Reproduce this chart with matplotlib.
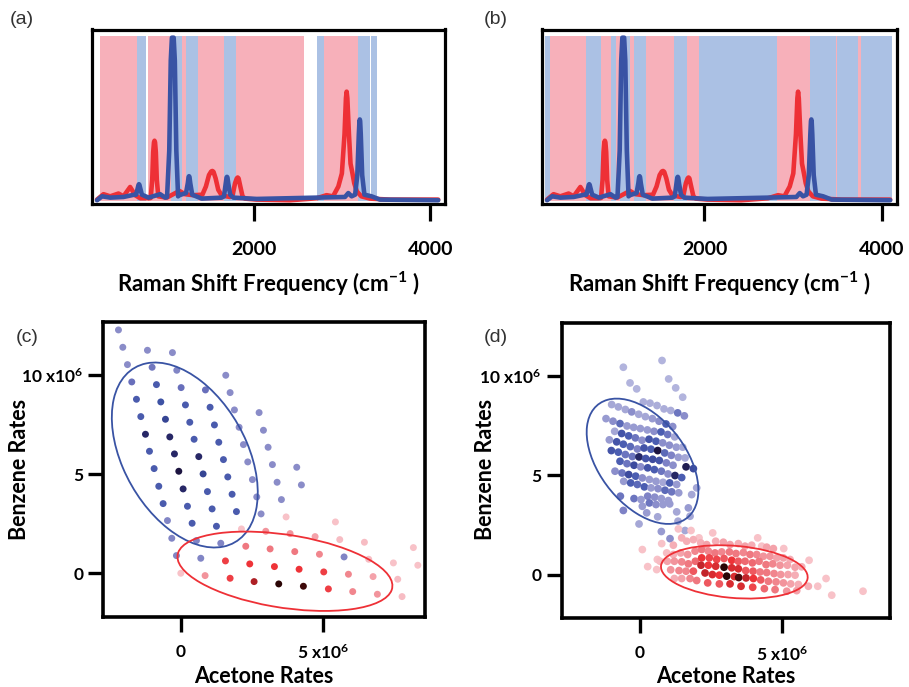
import numpy as np
import matplotlib
matplotlib.use("Agg")
import matplotlib.pyplot as plt
from matplotlib.colors import LinearSegmentedColormap
from matplotlib.patches import Ellipse

plt.rcParams['font.family'] = ['Lato', 'DejaVu Sans']
plt.rcParams['font.weight'] = 'bold'
plt.rcParams['axes.labelweight'] = 'bold'
plt.rcParams['mathtext.fontset'] = 'custom'
plt.rcParams['mathtext.rm'] = 'Lato:bold'
plt.rcParams['mathtext.bf'] = 'Lato:bold'
plt.rcParams['mathtext.it'] = 'Lato:bold'

# ---------------- Raman spectra (normalised intensity) ----------------
acetone_freq = [227, 300, 376, 470, 527, 602, 659, 716, 810, 835, 852, 863, 872, 878, 884,
                893, 904, 921, 1017, 1160, 1224, 1318, 1420, 1460, 1495, 1520, 1533, 1546,
                1570, 1600, 1640, 1733, 1760, 1790, 1810, 1820, 1830, 1850, 1875, 1903, 2035,
                2412, 2714, 2827, 2900, 2960, 3000, 3030, 3046, 3054, 3062, 3080, 3098, 3120,
                3140, 3170, 3220, 3318, 3544, 4091]
acetone_int = [0.0, 0.033, 0.02, 0.037, 0.02, 0.077, 0.027, 0.008, 0.008, 0.01, 0.12, 0.29,
               0.35, 0.36, 0.35, 0.29, 0.12, 0.02, 0.012, 0.053, 0.033, 0.027, 0.03, 0.08,
               0.15, 0.172, 0.175, 0.17, 0.13, 0.06, 0.025, 0.016, 0.02, 0.10, 0.13, 0.135,
               0.13, 0.08, 0.02, 0.006, 0.0, -0.004, 0.008, 0.027, 0.02, 0.08, 0.16, 0.40,
               0.62, 0.66, 0.62, 0.40, 0.22, 0.16, 0.10, 0.05, 0.02, 0.006, 0.0, 0.0]

benzene_freq = [227, 284, 376, 527, 640, 670, 688, 697, 702, 707, 716, 735, 810, 942, 999,
                1020, 1045, 1062, 1075, 1095, 1108, 1125, 1145, 1160, 1235, 1255, 1264, 1269,
                1274, 1283, 1305, 1412, 1639, 1665, 1685, 1694, 1699, 1704, 1713, 1735, 1771,
                2035, 2714, 3035, 3073, 3110, 3150, 3175, 3192, 3199, 3203, 3207, 3214, 3230,
                3255, 3336, 3431, 4091]
benzene_int = [-0.004, 0.02, 0.012, 0.016, 0.029, 0.03, 0.07, 0.09, 0.094, 0.09, 0.07, 0.03,
               0.012, 0.033, 0.012, 0.015, 0.30, 0.85, 0.99, 0.99, 0.85, 0.30, 0.02, 0.027,
               0.04, 0.10, 0.138, 0.143, 0.138, 0.10, 0.03, 0.006, 0.012, 0.02, 0.10, 0.135,
               0.139, 0.135, 0.10, 0.03, 0.012, 0.004, 0.012, 0.016, 0.04, 0.02, 0.03, 0.15,
               0.40, 0.48, 0.49, 0.48, 0.40, 0.15, 0.03, 0.02, 0.0, -0.004]

# wavelength windows assigned to each analyte (A = acetone, B = benzene)
win_a_start = [265, 684, 808, 1060, 1193, 1238, 1366, 1660, 1804, 2721, 2800, 3185, 3332]
win_a_end = [684, 786, 1060, 1193, 1238, 1366, 1660, 1804, 2574, 2800, 3185, 3321, 3400]
win_a_kind = ['A', 'B', 'A', 'B', 'A', 'B', 'A', 'B', 'A', 'B', 'A', 'B', 'B']

win_b_start = [206, 263, 665, 830, 943, 1003, 1045, 1165, 1203, 1341, 1657, 1800, 1936,
               2816, 3188, 3481, 3489, 3733, 3763]
win_b_end = [263, 665, 830, 943, 1003, 1045, 1165, 1203, 1341, 1657, 1800, 1936, 2816,
             3188, 3481, 3489, 3733, 3763, 4113]
win_b_kind = ['B', 'A', 'B', 'A', 'B', 'A', 'B', 'A', 'B', 'A', 'B', 'A', 'B',
              'A', 'B', 'A', 'B', 'A', 'B']

# ---------------- estimated rates, panel (c) (units of 1e6) ----------------
c_benz_x = [-2.196, -2.043, -1.175, -0.295, -1.879, -1.011, -0.142, 1.583, -1.727, -0.858,
            0.011, 0.867, 1.736, -1.562, -0.705, 0.163, 1.031, 1.888, 2.757, -1.409, -0.541,
            0.316, 1.184, 2.053, 2.910, -1.245, -0.388, 0.468, 1.337, 2.205, 3.074, -1.104,
            -0.224, 0.633, 1.501, 2.358, 3.226, 4.083, -0.940, -0.071, 0.785, 1.654, 2.522,
            3.391, 4.247, -0.776, 0.081, 0.938, 1.806, 2.675, 3.543, -0.623, 0.234, 1.102,
            1.959, 2.827, -0.471, 0.398, 1.255, -0.318, 0.550, 1.407, -0.154, 0.703, 5.750]
c_benz_y = [12.265, 11.391, 11.240, 11.122, 10.517, 10.383, 10.232, 9.980, 9.644, 9.509,
            9.358, 9.241, 9.106, 8.770, 8.636, 8.485, 8.367, 8.233, 8.098, 7.897, 7.762,
            7.611, 7.476, 7.359, 7.208, 7.006, 6.872, 6.754, 6.603, 6.485, 6.351, 6.149,
            6.015, 5.880, 5.729, 5.612, 5.477, 5.343, 5.276, 5.141, 5.007, 4.855, 4.721,
            4.587, 4.452, 4.385, 4.251, 4.116, 3.982, 3.847, 3.713, 3.511, 3.377, 3.243,
            3.108, 2.991, 2.655, 2.520, 2.369, 1.764, 1.647, 1.512, 0.890, 0.756, 0.823]
c_benz_w = [0.2, 0.2, 0.2, 0.2, 0.2, 0.35, 0.25, 0.2, 0.4, 0.55, 0.4, 0.4, 0.2, 0.55, 0.62,
            0.55, 0.55, 0.2, 0.2, 0.55, 0.7, 0.55, 0.55, 0.2, 0.2, 0.88, 0.88, 0.55, 0.55,
            0.2, 0.2, 0.55, 0.88, 0.88, 0.55, 0.2, 0.2, 0.2, 0.55, 1.0, 0.7, 0.55, 0.2, 0.2,
            0.2, 0.55, 0.88, 0.55, 0.55, 0.2, 0.2, 0.55, 0.55, 0.55, 0.55, 0.2, 0.25, 0.55,
            0.55, 0.25, 0.25, 0.25, 0.25, 0.25, 0.25]

c_acet_x = [3.708, 5.445, 2.135, 2.992, 3.849, 4.729, 5.598, 6.466, 8.191, 2.288, 3.145,
            4.013, 4.882, 6.618, 7.487, 1.572, 2.428, 3.297, 4.166, 5.034, 5.903, 6.771,
            7.640, 0.000, 0.855, 1.736, 2.581, 3.449, 4.317, 5.197, 6.054, 6.923, 7.792,
            8.347]
c_acet_y = [2.839, 2.587, 2.235, 2.117, 1.999, 1.848, 1.697, 1.563, 1.294, 1.361, 1.226,
            1.092, 0.958, 0.706, 0.521, 0.622, 0.470, 0.336, 0.202, 0.067, -0.050, -0.168,
            -0.302, 0.000, -0.118, -0.252, -0.420, -0.538, -0.655, -0.790, -0.924, -1.058,
            -1.176, 0.403]
c_acet_w = [0.15, 0.15, 0.15, 0.35, 0.35, 0.3, 0.2, 0.2, 0.15, 0.45, 0.45, 0.45, 0.4, 0.2,
            0.15, 0.62, 0.65, 0.65, 0.65, 0.62, 0.4, 0.3, 0.2, 0.15, 0.35, 0.62, 0.8, 1.0,
            0.97, 0.62, 0.4, 0.35, 0.2, 0.15]

# ---------------- estimated rates, panel (d) (units of 1e6) ----------------
d_benz = [  # x, y, weight
    (-0.587, 10.45, 0.2), (0.775, 10.79, 0.2), (-0.352, 9.66, 0.2), (-0.117, 9.36, 0.2),
    (1.009, 9.86, 0.2), (1.256, 9.41, 0.2), (1.502, 8.94, 0.2),
    (0.117, 8.70, 0.25), (0.352, 8.64, 0.25), (0.599, 8.52, 0.25), (0.845, 8.35, 0.25),
    (1.080, 8.27, 0.25), (1.326, 8.15, 0.5), (1.561, 8.00, 0.4),
    (-0.998, 8.57, 0.3), (-0.763, 8.45, 0.3), (-0.516, 8.32, 0.3), (-0.293, 8.20, 0.4),
    (-0.047, 8.08, 0.3), (0.188, 7.96, 0.3), (0.434, 7.86, 0.35), (0.669, 7.73, 0.4),
    (0.915, 7.59, 0.6), (1.150, 7.46, 0.4),
    (-1.197, 7.86, 0.35), (-0.951, 7.73, 0.4), (-0.704, 7.61, 0.55), (-0.458, 7.49, 0.35),
    (-0.223, 7.42, 0.35), (0.012, 7.36, 0.35), (0.258, 7.29, 0.35), (0.493, 7.22, 0.4),
    (0.739, 7.19, 0.6), (0.974, 7.06, 0.5), (1.221, 6.94, 0.3),
    (-0.892, 7.22, 0.3), (-0.646, 7.11, 0.65), (-0.399, 6.99, 0.6), (-0.164, 6.89, 0.5),
    (0.070, 6.77, 0.4), (0.317, 6.82, 0.65), (0.563, 6.72, 0.6), (0.798, 6.64, 0.4),
    (1.033, 6.52, 0.4), (1.279, 6.42, 0.35), (1.502, 6.42, 0.3),
    (-1.080, 6.79, 0.35), (-0.822, 6.69, 0.65), (-0.587, 6.57, 0.6), (-0.340, 6.45, 0.55),
    (-0.094, 6.33, 0.45), (0.141, 6.38, 0.65), (0.387, 6.32, 0.6), (0.622, 6.25, 1.0),
    (0.869, 6.13, 0.55), (1.103, 6.01, 0.45), (1.350, 5.91, 0.35), (1.585, 5.88, 0.3),
    (-1.009, 6.25, 0.65), (-0.763, 6.17, 0.6), (-0.516, 6.05, 0.5), (-0.270, 5.95, 0.5),
    (-0.035, 5.93, 0.9), (0.200, 5.85, 0.65), (0.446, 5.81, 0.7), (0.681, 5.75, 0.65),
    (0.927, 5.63, 0.45), (1.162, 5.51, 0.4), (1.620, 5.43, 0.95), (1.878, 5.34, 0.7),
    (-0.704, 5.71, 0.6), (-0.458, 5.59, 0.5), (-0.211, 5.51, 0.7), (0.023, 5.43, 0.4),
    (0.270, 5.38, 0.65), (0.505, 5.29, 0.6), (0.751, 5.21, 0.5), (0.986, 5.07, 0.4),
    (1.232, 4.99, 0.9), (1.467, 4.89, 0.6),
    (-0.880, 5.21, 0.4), (-0.634, 5.12, 0.5), (-0.399, 5.04, 0.7), (-0.153, 4.96, 0.6),
    (0.082, 4.87, 0.4), (0.329, 4.79, 0.35), (0.563, 4.70, 0.35), (0.810, 4.65, 0.3),
    (1.045, 4.62, 0.6), (1.291, 4.54, 0.35), (1.995, 4.37, 0.3),
    (-0.575, 4.70, 0.35), (-0.329, 4.62, 0.6), (-0.094, 4.54, 0.55), (0.153, 4.42, 0.6),
    (0.387, 4.37, 0.35), (0.634, 4.33, 0.4), (0.880, 4.25, 0.55), (1.115, 4.17, 0.5),
    (1.362, 4.12, 0.35), (1.819, 4.03, 0.3),
    (-0.692, 3.95, 0.5), (-0.211, 3.83, 0.5), (0.035, 3.78, 0.35), (0.270, 3.95, 0.45),
    (0.516, 3.90, 0.4), (0.751, 3.83, 0.35), (0.998, 3.73, 0.35), (1.702, 3.36, 0.35),
    (-0.587, 3.23, 0.45), (0.082, 3.44, 0.35), (0.329, 3.61, 0.5), (0.563, 3.53, 0.4),
    (0.810, 3.53, 0.35), (1.045, 3.56, 0.35), (1.291, 3.16, 0.3), (1.761, 2.94, 0.3),
    (0.622, 2.91, 0.3), (0.235, 3.11, 0.35), (-0.035, 2.55, 0.3), (0.751, 2.17, 0.35),
    (1.056, 1.81, 0.4), (1.338, 2.69, 0.3), (1.585, 2.22, 0.3),
]
d_acet = [  # x, y, weight
    (0.082, 1.26, 0.15), (0.270, 0.40, 0.15), (0.610, 0.76, 0.15), (0.763, 1.56, 0.15),
    (1.350, 2.30, 0.15), (1.796, 2.22, 0.15), (2.077, 1.85, 0.15), (2.559, 2.10, 0.15),
    (4.143, 1.85, 0.15), (4.284, 1.43, 0.15), (5.059, 1.31, 0.15), (5.951, 0.72, 0.15),
    (6.256, -0.59, 0.15), (6.549, -0.20, 0.15), (6.749, -1.04, 0.15), (0.587, 0.25, 0.15),
    (7.850, -0.84, 0.15),
    (1.174, 1.48, 0.25), (1.467, 1.85, 0.25), (1.643, 1.68, 0.25), (1.878, 1.76, 0.25),
    (2.136, 1.60, 0.25), (2.347, 1.51, 0.3), (2.664, 1.68, 0.25), (2.934, 1.63, 0.3),
    (3.169, 1.51, 0.3), (3.462, 1.56, 0.25), (3.697, 1.43, 0.3), (3.932, 1.48, 0.25),
    (4.460, 1.38, 0.3), (4.695, 1.31, 0.3),
    (0.939, 1.09, 0.2), (1.174, 1.01, 0.25), (1.432, 1.09, 0.3), (1.678, 1.01, 0.35),
    (1.937, 1.18, 0.4), (2.171, 1.26, 0.45), (2.406, 1.18, 0.4), (2.641, 1.09, 0.45),
    (2.876, 1.14, 0.4), (3.146, 1.14, 0.45), (3.380, 1.06, 0.45), (3.638, 1.11, 0.4),
    (3.873, 1.01, 0.45), (4.108, 1.01, 0.4), (4.343, 0.92, 0.35), (4.577, 0.92, 0.35),
    (4.812, 0.84, 0.3), (5.047, 0.84, 0.3), (5.282, 0.76, 0.25),
    (0.704, 0.67, 0.2), (0.962, 0.67, 0.3), (1.209, 0.67, 0.35), (1.467, 0.64, 0.4),
    (1.702, 0.54, 0.45), (1.948, 0.67, 0.5), (2.171, 0.84, 0.65), (2.441, 0.84, 0.6),
    (2.700, 0.76, 0.6), (2.958, 0.81, 0.55), (3.228, 0.72, 0.65), (3.462, 0.67, 0.55),
    (3.697, 0.67, 0.5), (3.955, 0.59, 0.5), (4.190, 0.67, 0.45), (4.437, 0.50, 0.45),
    (4.671, 0.54, 0.4), (4.930, 0.47, 0.35), (5.188, 0.47, 0.3), (5.458, 0.37, 0.3),
    (5.692, 0.39, 0.25),
    (1.080, 0.24, 0.35), (1.373, 0.20, 0.4), (1.620, 0.17, 0.4), (1.878, 0.17, 0.55),
    (2.148, 0.47, 0.75), (2.406, 0.47, 0.65), (2.664, 0.42, 0.7), (2.958, 0.37, 1.0),
    (3.228, 0.34, 0.7), (3.462, 0.29, 0.7), (3.721, 0.20, 0.55), (3.979, 0.17, 0.55),
    (4.225, 0.13, 0.45), (4.460, 0.10, 0.45), (4.718, 0.05, 0.4), (4.953, 0.00, 0.35),
    (5.211, 0.00, 0.3), (5.458, -0.03, 0.25),
    (1.209, -0.20, 0.25), (1.467, -0.20, 0.3), (1.761, -0.20, 0.4), (1.995, -0.30, 0.45),
    (2.289, 0.08, 0.75), (2.547, 0.00, 0.7), (2.793, -0.03, 0.65), (3.052, -0.08, 1.0),
    (3.322, -0.10, 0.7), (3.474, -0.15, 0.95), (3.732, -0.17, 0.75), (3.991, -0.20, 0.65),
    (4.249, -0.27, 0.55), (4.519, -0.34, 0.45), (4.789, -0.37, 0.4), (5.047, -0.42, 0.35),
    (5.305, -0.47, 0.3), (5.575, -0.50, 0.25),
    (2.383, -0.42, 0.55), (2.793, -0.47, 0.55), (3.169, -0.47, 0.7), (3.556, -0.59, 0.7),
    (3.967, -0.64, 0.6), (4.378, -0.71, 0.5), (4.754, -0.76, 0.45), (5.164, -0.84, 0.35),
    (5.516, -0.81, 0.3), (5.927, -0.59, 0.25),
]

# confidence ellipses: centre x, centre y, sigma x, sigma y, correlation
ell_c_benz = (0.14, 5.96, 2.570, 4.662, -0.4065)
ell_c_acet = (3.667, 0.10, 3.785, 2.00, -0.365)
ell_d_benz = (0.088, 5.71, 1.966, 3.159, -0.4626)
ell_d_acet = (3.32, 0.134, 2.582, 1.344, -0.195)

# ---------------- styling ----------------
RED = '#EE3036'
BLUE = '#3953A4'
PINK_BAND = '#F7B0BA'
BLUE_BAND = '#ABC1E4'
blue_cmap = LinearSegmentedColormap.from_list(
    'bz', [(0, '#C3C4E4'), (0.2, '#8A8CC8'), (0.45, '#6068B8'), (0.6, '#3F55A8'),
           (0.8, '#2E3580'), (1.0, '#1C1440')])
red_cmap = LinearSegmentedColormap.from_list(
    'ac', [(0, '#FBD3D8'), (0.2, '#F7BCC3'), (0.35, '#F2949C'), (0.5, '#EE6A72'),
           (0.65, '#EE3338'), (0.82, '#A51C22'), (1.0, '#2A0505')])
# the denser grid of panel (d) is drawn with lighter low-count shades
blue_cmap_d = LinearSegmentedColormap.from_list(
    'bzd', [(0, '#CBCDEA'), (0.3, '#A5A7D6'), (0.45, '#7E82C6'), (0.6, '#4B5DB1'),
            (0.8, '#2F3A8C'), (1.0, '#1C1440')])

W, H = 909, 687
fig = plt.figure(figsize=(W / 100, H / 100), dpi=100)


def px_axes(l, t, r, b):
    return fig.add_axes([l / W, 1 - b / H, (r - l) / W, (b - t) / H])


def bold_ticks(ax):
    for lab in ax.get_xticklabels() + ax.get_yticklabels():
        lab.set_fontweight('bold')


def spectrum_panel(ax, starts, ends, kinds):
    lo, hi = -0.01, 1.0
    for s, e, k in zip(starts, ends, kinds):
        ax.fill_between([s, e], [lo, lo], [hi, hi], color=PINK_BAND if k == 'A' else BLUE_BAND,
                        lw=0, zorder=1)
    ax.plot(acetone_freq, acetone_int, color=RED, lw=3.3, solid_joinstyle='round',
            solid_capstyle='round', zorder=3)
    ax.plot(benzene_freq, benzene_int, color=BLUE, lw=3.3, solid_joinstyle='round',
            solid_capstyle='round', zorder=4)
    ax.set_xlim(170, 4168)
    ax.set_ylim(-0.03, 1.04)
    ax.set_yticks([])
    ax.set_xticks([2000, 4000])
    ax.set_xticklabels(['2000', '4000'])
    ax.tick_params(axis='x', direction='out', length=12, width=2.3, pad=14, labelsize=14)
    for sp in ax.spines.values():
        sp.set_linewidth(2.3)
    ax.set_xlabel(r'Raman Shift Frequency (cm$^{-1}$ )', fontsize=16, fontweight='bold',
                  labelpad=9)
    bold_ticks(ax)


def rates_panel(ax, xlim):
    ax.set_xlim(*xlim)
    ax.set_ylim(-2.19, 12.68)
    ax.set_xticks([0, 5])
    ax.set_xticklabels(['0', r'5 x10$^{6}$'])
    ax.set_yticks([0, 5, 10])
    ax.set_yticklabels(['0', '5', r'10 x10$^{6}$'])
    ax.tick_params(direction='out', length=10.5, width=2.4, labelsize=12.5)
    ax.tick_params(axis='x', pad=9)
    ax.tick_params(axis='y', pad=4)
    for sp in ax.spines.values():
        sp.set_linewidth(2.6)
    bold_ticks(ax)


def draw_ellipse(ax, params, color):
    cx, cy, sx, sy, rho = params
    cov = np.array([[sx * sx, rho * sx * sy], [rho * sx * sy, sy * sy]])
    vals, vecs = np.linalg.eigh(cov)
    ang = np.degrees(np.arctan2(vecs[1, 1], vecs[0, 1]))
    ax.add_patch(Ellipse((cx, cy), 2 * np.sqrt(vals[1]), 2 * np.sqrt(vals[0]), angle=ang,
                         fill=False, ec=color, lw=1.3, zorder=5))


# (a) and (b): spectra with analyte windows
ax_a = px_axes(92, 29.5, 445, 204.5)
spectrum_panel(ax_a, win_a_start, win_a_end, win_a_kind)
ax_b = px_axes(542, 29.5, 897, 204.5)
spectrum_panel(ax_b, win_b_start, win_b_end, win_b_kind)

# (c): rates from the windows of (a)
ax_c = px_axes(103.3, 321.7, 425, 616.7)
rates_panel(ax_c, (-2.73, 8.6))
ax_c.scatter(c_benz_x, c_benz_y, c=c_benz_w, cmap=blue_cmap, vmin=0, vmax=1, s=25,
             lw=0, zorder=3)
ax_c.scatter(c_acet_x, c_acet_y, c=c_acet_w, cmap=red_cmap, vmin=0, vmax=1, s=25,
             lw=0, zorder=3)
draw_ellipse(ax_c, ell_c_benz, BLUE)
draw_ellipse(ax_c, ell_c_acet, RED)

# (d): rates from the windows of (b)
ax_d = px_axes(561.7, 323, 890, 618)
rates_panel(ax_d, (-2.757, 8.80))
dbx, dby, dbw = zip(*d_benz)
dax, day, daw = zip(*d_acet)
ax_d.scatter(dbx, dby, c=dbw, cmap=blue_cmap_d, vmin=0, vmax=1, s=31, lw=0, zorder=3)
ax_d.scatter(dax, day, c=daw, cmap=red_cmap, vmin=0, vmax=1, s=31, lw=0, zorder=3)
draw_ellipse(ax_d, ell_d_benz, BLUE)
draw_ellipse(ax_d, ell_d_acet, RED)

for ax in (ax_c, ax_d):
    ax.set_xlabel('Acetone Rates', fontsize=15.5, fontweight='bold')
    ax.set_ylabel('Benzene Rates', fontsize=15.5, fontweight='bold')
ax_c.xaxis.set_label_coords((264 - 103.3) / 321.7, (616.7 - 666) / 295)
ax_d.xaxis.set_label_coords((726 - 561.7) / 328.3, (618 - 666) / 295)
ax_c.yaxis.set_label_coords((30 - 103.3) / 321.7, (616.7 - 469) / 295)
ax_d.yaxis.set_label_coords((496 - 561.7) / 328.3, (618 - 469) / 295)

for lab, x, y in (('(a)', 22, 20), ('(b)', 496, 20), ('(c)', 27, 338), ('(d)', 496, 338)):
    fig.text(x / W, 1 - y / H, lab, family='Liberation Sans', weight='normal', fontsize=14,
             color='#333333', ha='center', va='center')

fig.savefig('out.png', dpi=100)
